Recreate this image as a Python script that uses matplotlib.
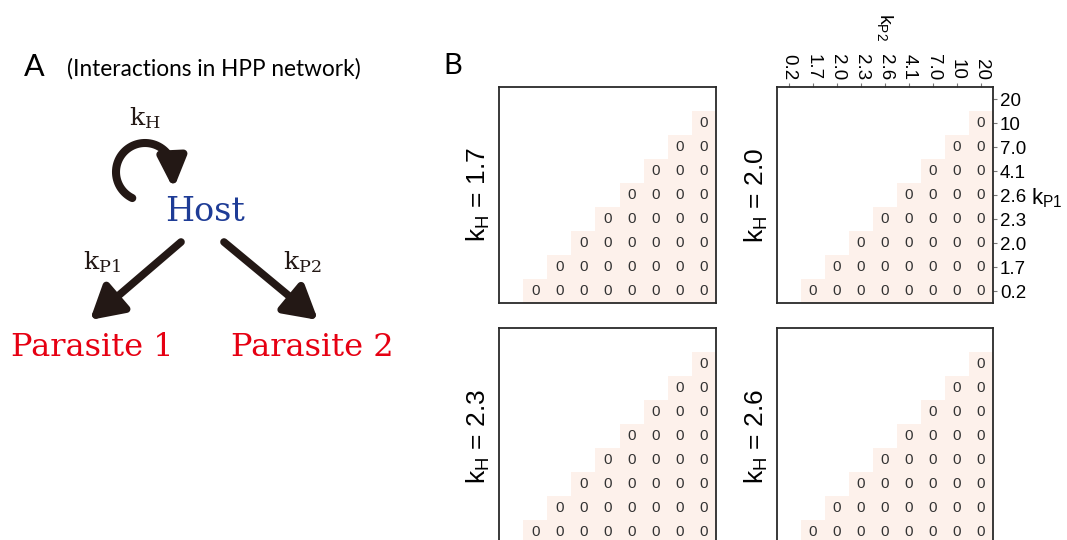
import numpy as np
import matplotlib
matplotlib.use("Agg")
import matplotlib.pyplot as plt
from matplotlib.colors import ListedColormap
from matplotlib.patches import FancyArrowPatch, ArrowStyle
from matplotlib.path import Path

plt.rcParams['font.family'] = ['Liberation Sans', 'DejaVu Sans']

# Data
kP2_labels = ['0.2', '1.7', '2.0', '2.3', '2.6', '4.1', '7.0', '10', '20']
kP1_labels = ['20', '10', '7.0', '4.1', '2.6', '2.3', '2.0', '1.7', '0.2']  # top -> bottom
kH_values = ['1.7', '2.0', '2.3', '2.6']

N = None
# cell values (rows = kP1 top->bottom, cols = kP2 left->right), blank = not computed
cells_kH_17 = [
    [N, N, N, N, N, N, N, N, N],
    [N, N, N, N, N, N, N, N, 0],
    [N, N, N, N, N, N, N, 0, 0],
    [N, N, N, N, N, N, 0, 0, 0],
    [N, N, N, N, N, 0, 0, 0, 0],
    [N, N, N, N, 0, 0, 0, 0, 0],
    [N, N, N, 0, 0, 0, 0, 0, 0],
    [N, N, 0, 0, 0, 0, 0, 0, 0],
    [N, 0, 0, 0, 0, 0, 0, 0, 0],
]
cells_kH_20 = [row[:] for row in cells_kH_17]
cells_kH_23 = [row[:] for row in cells_kH_17]
cells_kH_26 = [row[:] for row in cells_kH_17]
panel_cells = [cells_kH_17, cells_kH_20, cells_kH_23, cells_kH_26]

W, H = 1067, 540
fig = plt.figure(figsize=(W / 100, H / 100), dpi=100)

# ---------- panel A (drawn in pixel coordinates) ----------
axA = fig.add_axes([0, 0, 1, 1])
axA.set_xlim(0, W)
axA.set_ylim(H, 0)
axA.axis('off')

ink = '#231815'
axA.text(24, 67, 'A', fontsize=22, family='Lato', va='center', ha='left')
axA.text(67, 69, '(Interactions in HPP network)', fontsize=16.3, family='Lato', va='center', ha='left')

serif = 'DejaVu Serif'
axA.text(145, 118, r'$\mathregular{k_H}$', fontsize=18, family=serif, ha='center', va='center', color=ink)
axA.text(205, 212, 'Host', fontsize=24, family=serif, ha='center', va='center', color='#1e3c96')
axA.text(102, 262, r'$\mathregular{k_{P1}}$', fontsize=18, family=serif, ha='center', va='center', color=ink)
axA.text(302, 262, r'$\mathregular{k_{P2}}$', fontsize=18, family=serif, ha='center', va='center', color=ink)
axA.text(92, 347, 'Parasite 1', fontsize=23, family=serif, ha='center', va='center', color='#e60012')
axA.text(312, 347, 'Parasite 2', fontsize=23, family=serif, ha='center', va='center', color='#e60012')

head = ArrowStyle('-|>', head_length=0.7, head_width=0.4)
for start, end in [((181, 242), (90, 320)), ((224, 242), (318, 320))]:
    axA.add_patch(FancyArrowPatch(start, end, arrowstyle=head, mutation_scale=28,
                                  lw=5.5, color=ink, shrinkA=0, shrinkB=0))

# self loop on host: open circle, arrow head pointing down onto "Host"
t = np.radians(np.linspace(116, 340, 60))
loop_pts = np.column_stack([145 + 29 * np.cos(t), 172 + 29 * np.sin(t)])
loop_pts = np.vstack([loop_pts, [[173.5, 189]]])
axA.add_patch(FancyArrowPatch(path=Path(loop_pts),
                              arrowstyle=ArrowStyle('-|>', head_length=0.7, head_width=0.32),
                              mutation_scale=26, lw=5.8, color=ink, shrinkA=0, shrinkB=0))

# ---------- panel B ----------
axA.text(443, 66, 'B', fontsize=21, family='Lato', va='center', ha='left')

pink = ListedColormap(['#fdf1eb'])
boxes = [(499, 87, 217, 216), (777, 87, 216, 216),
         (499, 328, 217, 216), (777, 328, 216, 216)]

for k, (cells, kh, (x0, y0, bw, bh)) in enumerate(zip(panel_cells, kH_values, boxes)):
    ax = fig.add_axes([x0 / W, 1 - (y0 + bh) / H, bw / W, bh / H])
    grid = np.array(cells, dtype=float)
    ax.imshow(np.ma.masked_invalid(grid), cmap=pink, vmin=0, vmax=1, aspect='auto')
    for i in range(grid.shape[0]):
        for j in range(grid.shape[1]):
            if not np.isnan(grid[i, j]):
                ax.text(j, i, f'{grid[i, j]:.0f}', ha='center', va='center',
                        fontsize=11, color='#333333')
    for s in ax.spines.values():
        s.set_color('#2a2a2a')
        s.set_linewidth(1.3)
    ax.set_ylabel(r'$\mathregular{k_H}$ = ' + kh, fontsize=19, labelpad=5)
    if k == 1:
        ax.xaxis.tick_top()
        ax.set_xticks(range(9), kP2_labels, rotation=-90)
        ax.xaxis.set_label_position('top')
        ax.set_xlabel(r'$\mathregular{k_{P2}}$', rotation=-90, fontsize=14, labelpad=13)
        ax.yaxis.tick_right()
        ax.set_yticks(range(9), kP1_labels)
        ax.tick_params(length=3, color='#777777', labelsize=13.5, pad=2)
        ax.text(1.175, 0.485, r'$\mathregular{k_{P1}}$', transform=ax.transAxes,
                fontsize=16, va='center', ha='left')
    else:
        ax.set_xticks([])
        ax.set_yticks([])

fig.savefig('out.png', dpi=100)
